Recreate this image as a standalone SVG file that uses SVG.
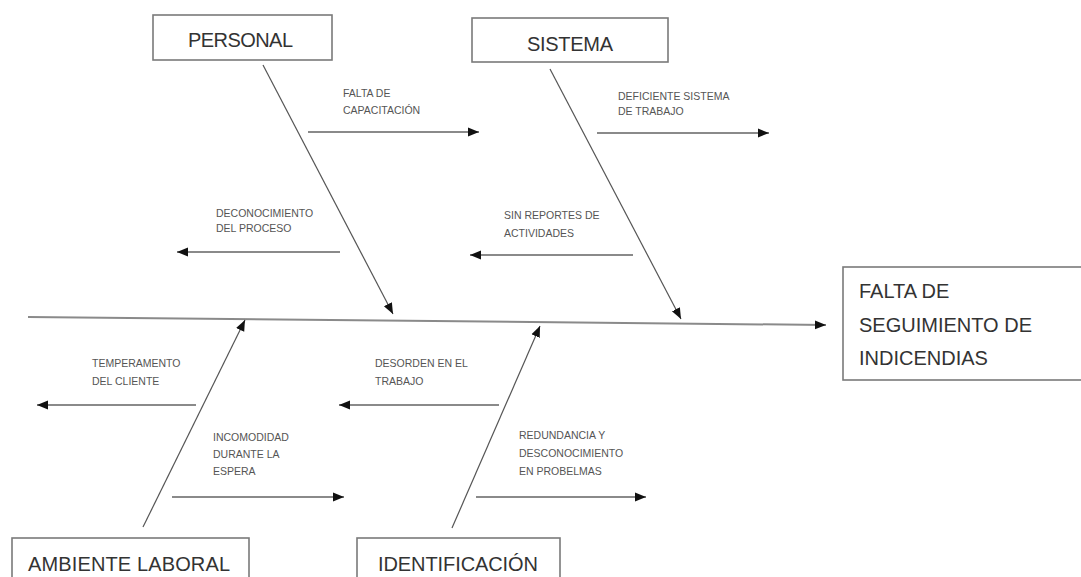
<svg xmlns="http://www.w3.org/2000/svg" width="1081" height="577" viewBox="0 0 1081 577">
  <defs>
    <marker id="ah" markerUnits="userSpaceOnUse" markerWidth="12" markerHeight="12" viewBox="0 0 12 12" refX="11" refY="6" orient="auto">
      <path d="M0,1.5 L11,6 L0,10.5 Z" fill="#111"/>
    </marker>
    <style>
      .box { fill: #fff; stroke: #7a7a7a; stroke-width: 1.6; }
      .big { font-family: "Liberation Sans", Arial, sans-serif; font-size: 20px; fill: #333; }
      .small { font-family: "Liberation Sans", Arial, sans-serif; font-size: 10.5px; fill: #555; }
      .spine { stroke: #8a8a8a; stroke-width: 2; fill: none; }
      .bone { stroke: #555; stroke-width: 1.2; fill: none; }
      .sub { stroke: #8a8a8a; stroke-width: 2; fill: none; }
    </style>
  </defs>
  <rect width="1081" height="577" fill="#fff"/>

  <g id="connectors">
    <line class="spine" x1="28" y1="317" x2="826" y2="325" marker-end="url(#ah)"/>
    <line class="bone" x1="263" y1="65" x2="393" y2="314" marker-end="url(#ah)"/>
    <line class="bone" x1="550" y1="69" x2="681" y2="319" marker-end="url(#ah)"/>
    <line class="bone" x1="143" y1="527" x2="245" y2="320" marker-end="url(#ah)"/>
    <line class="bone" x1="452" y1="528" x2="540" y2="326" marker-end="url(#ah)"/>
    <line class="sub" x1="308" y1="132" x2="479" y2="132" marker-end="url(#ah)"/>
    <line class="sub" x1="597" y1="133" x2="769" y2="133" marker-end="url(#ah)"/>
    <line class="sub" x1="340" y1="252" x2="177" y2="252" marker-end="url(#ah)"/>
    <line class="sub" x1="633" y1="255" x2="470" y2="255" marker-end="url(#ah)"/>
    <line class="sub" x1="196" y1="405" x2="37" y2="405" marker-end="url(#ah)"/>
    <line class="sub" x1="499" y1="405" x2="339" y2="405" marker-end="url(#ah)"/>
    <line class="sub" x1="172" y1="497" x2="344" y2="497" marker-end="url(#ah)"/>
    <line class="sub" x1="476" y1="497" x2="646" y2="497" marker-end="url(#ah)"/>
  </g>

  <g id="personal">
    <rect class="box" x="153" y="15" width="179" height="45"/>
    <text class="big" x="188" y="47" textLength="105">PERSONAL</text>
  </g>
  <g id="sistema">
    <rect class="box" x="472" y="18" width="196" height="44"/>
    <text class="big" x="527" y="51" textLength="86">SISTEMA</text>
  </g>
  <g id="ambiente-laboral">
    <rect class="box" x="12" y="538" width="237" height="50"/>
    <text class="big" x="28" y="571" textLength="202">AMBIENTE LABORAL</text>
  </g>
  <g id="identificacion">
    <rect class="box" x="357" y="538" width="203" height="50"/>
    <text class="big" x="378" y="571" textLength="160">IDENTIFICACIÓN</text>
  </g>
  <g id="efecto">
    <rect class="box" x="843" y="267" width="245" height="113"/>
    <text class="big" x="859" y="298">FALTA DE</text>
    <text class="big" x="859" y="332">SEGUIMIENTO DE</text>
    <text class="big" x="859" y="365">INDICENDIAS</text>
  </g>

  <g id="causa-falta-capacitacion">
    <text class="small" x="343" y="97">FALTA DE</text>
    <text class="small" x="343" y="114">CAPACITACIÓN</text>
  </g>
  <g id="causa-deficiente-sistema">
    <text class="small" x="618" y="100">DEFICIENTE SISTEMA</text>
    <text class="small" x="618" y="115">DE TRABAJO</text>
  </g>
  <g id="causa-deconocimiento">
    <text class="small" x="216" y="217">DECONOCIMIENTO</text>
    <text class="small" x="216" y="232">DEL PROCESO</text>
  </g>
  <g id="causa-sin-reportes">
    <text class="small" x="504" y="219">SIN REPORTES DE</text>
    <text class="small" x="504" y="237">ACTIVIDADES</text>
  </g>
  <g id="causa-temperamento">
    <text class="small" x="92" y="367">TEMPERAMENTO</text>
    <text class="small" x="92" y="385">DEL CLIENTE</text>
  </g>
  <g id="causa-desorden">
    <text class="small" x="375" y="367">DESORDEN EN EL</text>
    <text class="small" x="375" y="385">TRABAJO</text>
  </g>
  <g id="causa-incomodidad">
    <text class="small" x="213" y="441">INCOMODIDAD</text>
    <text class="small" x="213" y="458">DURANTE LA</text>
    <text class="small" x="213" y="475">ESPERA</text>
  </g>
  <g id="causa-redundancia">
    <text class="small" x="519" y="439">REDUNDANCIA Y</text>
    <text class="small" x="519" y="457">DESCONOCIMIENTO</text>
    <text class="small" x="519" y="475">EN PROBELMAS</text>
  </g>
</svg>
